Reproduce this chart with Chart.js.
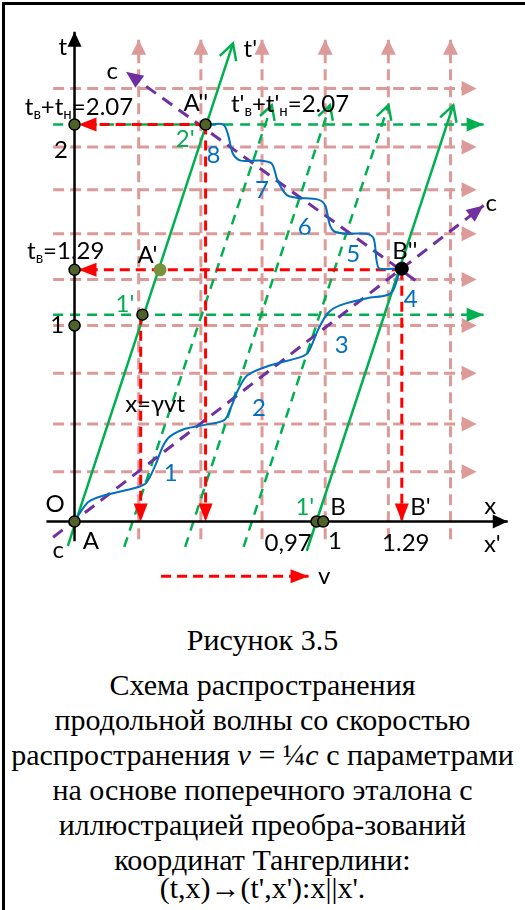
<!DOCTYPE html>
<html>
<head>
<meta charset="utf-8">
<script src="https://cdn.jsdelivr.net/npm/chart.js@4.4.0/dist/chart.umd.min.js"></script>
<style>
  body { margin: 0; background: #fff; }
  #page { position: relative; width: 525px; height: 910px; overflow: hidden; }
  #frame { position: absolute; left: 2px; top: 2px; width: 560px; height: 960px;
           border-left: 3px solid #000; border-top: 3px solid #000; }
  #chart { position: absolute; left: 0; top: 0; }
  .cap { position: absolute; left: 0; width: 525px; text-align: center;
         font-family: "Liberation Serif", "Times New Roman", serif; font-size: 30px;
         line-height: 35px; color: #000; white-space: nowrap; }
</style>
</head>
<body>
<div id="page">
  <div id="frame"></div>
  <canvas id="chart" width="525" height="610"></canvas>
  <div class="cap" style="top:622px">Рисунок 3.5</div>
  <div class="cap" style="top:667px">
    Схема распространения<br>
    продольной волны со скоростью<br>
    распространения <i>v</i> = ¼<i>c</i> с параметрами<br>
    на основе поперечного эталона с<br>
    иллюстрацией преобра-зований<br>
    координат Тангерлини:
  </div>
  <div class="cap" style="top:870px">(t,x)→(t',x'):x||x'.</div>
</div>

<script>
// pink reference grid (x and t values)
const gridX = [0.258, 0.508, 0.754, 1.008, 1.262, 1.512];
const gridT = [0.254, 0.498, 0.756, 1.0, 1.234, 1.468, 1.692, 1.91, 2.209];

// green world lines of the moving frame
const tPrimeX = [-0.027, 0.637], tPrimeT = [-0.124, 2.438];
const bLineX = [0.934, 1.523], bLineT = [-0.149, 2.124];
const dashBottomX = [0.200, 0.445, 0.680];
const dashTopX = [0.793, 1.027, 1.262];
const dashT = [-0.129, 2.124];
const greenLevelT = [2.025, 1.055];

// light signal lines c
const cFwdX = [-0.086, 1.645], cFwdT = [-0.080, 1.612];
const cBackX = [1.371, 0.207], cBackT = [1.229, 2.294];

// wave front (blue): 0 -> B'' -> A''
const waveX = [0, 0.055, 0.121, 0.25, 0.289, 0.324, 0.355, 0.383, 0.445, 0.523, 0.602, 0.629, 0.656, 0.695,
  0.785, 0.914, 0.941, 0.98, 1.02, 1.07, 1.176, 1.254, 1.281, 1.305, 1.316,
  1.227, 1.215, 1.203, 1.176, 1.098, 1.047, 1.027, 1.008, 0.98, 0.891, 0.852, 0.816, 0.793, 0.746,
  0.668, 0.637, 0.617, 0.598, 0.539, 0.527];
const waveT = [0, 0.1, 0.134, 0.174, 0.199, 0.284, 0.383, 0.433, 0.473, 0.493, 0.517, 0.582, 0.667, 0.746,
  0.796, 0.841, 0.866, 0.98, 1.065, 1.104, 1.139, 1.154, 1.179, 1.264, 1.29,
  1.289, 1.328, 1.443, 1.468, 1.468, 1.478, 1.512, 1.612, 1.642, 1.652, 1.667, 1.741, 1.826, 1.841,
  1.841, 1.876, 1.975, 2.025, 2.025, 2.025];

// red projection arrows
const redX = [[0.527, 0.016], [1.316, 0.016], [0.266, 0.266], [0.527, 0.527], [1.316, 1.316], [0.348, 0.941]];
const redT = [[2.025, 2.025], [1.284, 1.284], [1.055, 0], [2.025, 0], [1.284, 0], [-0.279, -0.279]];

// marked events
const dotX = [0, 0, 0, 0, 0.527, 0.273, 0.973, 1.0];
const dotT = [0, 1.0, 1.284, 2.025, 2.025, 1.055, 0, 0];
const aPrime = [0.344, 1.284];
const bDouble = [1.316, 1.29];

const PINK = '#dc9a98', GREEN = '#00b050', RED = '#ff0000', PURPLE = '#7030a0', BLUE = '#0070c0';
const SANS = 'Lato, "Liberation Sans", sans-serif';

const pts = (xs, ts) => xs.map((v, i) => ({ x: v, y: ts[i] }));

function seg(xs, ts, color, width, dash, order, arrow) {
  return {
    data: pts(xs, ts), showLine: true, pointRadius: 0, pointHoverRadius: 0,
    borderColor: color, borderWidth: width, borderDash: dash, borderCapStyle: 'butt',
    tension: 0, order: order, arrow: arrow
  };
}

const datasets = [];
gridX.forEach(g => datasets.push(seg([g, g], [-0.09, 2.458], PINK, 3, [11, 6], 20,
  { kind: 'fill', len: 15, half: 7.5, color: PINK })));
gridT.forEach(g => datasets.push(seg([-0.086, 1.617], [g, g], PINK, 3, [11, 6], 20,
  { kind: 'fill', len: 15, half: 7.5, color: PINK })));

datasets.push(seg(tPrimeX, tPrimeT, GREEN, 2.5, [], 10, { kind: 'open', len: 18, ang: 0.5, color: GREEN }));
datasets.push(seg(bLineX, bLineT, GREEN, 2.5, [], 10, { kind: 'open', len: 18, ang: 0.5, color: GREEN }));
dashBottomX.forEach((b, i) => datasets.push(seg([b, dashTopX[i]], dashT, GREEN, 2.5, [10, 7], 11,
  { kind: 'open', len: 16, ang: 0.5, color: GREEN })));
greenLevelT.forEach(g => datasets.push(seg([-0.086, 1.645], [g, g], GREEN, 2.5, [10, 7], 12,
  { kind: 'fill', len: 17, half: 7, color: GREEN })));

datasets.push(seg(cFwdX, cFwdT, PURPLE, 3, [12, 8], 9, { kind: 'fill', len: 17, half: 7.5, color: PURPLE }));
datasets.push(seg(cBackX, cBackT, PURPLE, 3, [12, 8], 9, { kind: 'fill', len: 17, half: 7.5, color: PURPLE }));

redX.forEach((xs, i) => datasets.push(seg(xs, redT[i], RED, 3, [10, 6], 8,
  { kind: 'fill', len: 18, half: 7, color: RED })));

datasets.push(Object.assign(seg(waveX, waveT, BLUE, 2, [], 6), { tension: 0.3 }));

datasets.push(seg([-0.113, 1.742], [0, 0], '#000', 2.5, [], 5, { kind: 'fill', len: 15, half: 7, color: '#000' }));
datasets.push(seg([0, 0], [-0.1, 2.498], '#000', 2.5, [], 5, { kind: 'fill', len: 15, half: 7, color: '#000' }));

datasets.push({ data: pts(dotX, dotT), showLine: false, pointRadius: 5.5, pointBorderWidth: 1.5,
  pointBackgroundColor: '#4f6228', pointBorderColor: '#000', order: 1 });
datasets.push({ data: [{ x: aPrime[0], y: aPrime[1] }], showLine: false, pointRadius: 6.5, pointBorderWidth: 0,
  pointBackgroundColor: '#76923c', pointBorderColor: '#76923c', order: 1 });
datasets.push({ data: [{ x: bDouble[0], y: bDouble[1] }], showLine: false, pointRadius: 6.5, pointBorderWidth: 1,
  pointBackgroundColor: '#000', pointBorderColor: '#000', order: 1 });

// text on the diagram: parts are [text, isSubscript]
const textLabels = [
  { parts: [['t']], x: -0.047, t: 2.423 },
  { parts: [["t'"]], x: 0.707, t: 2.413 },
  { parts: [['c']], x: 0.152, t: 2.299 },
  { parts: [['c']], x: 1.676, t: 1.627 },
  { parts: [['c']], x: -0.066, t: -0.144 },
  { parts: [["A''"]], x: 0.488, t: 2.139 },
  { parts: [['t'], ['в', 1], ['+t'], ['н', 1], ['=2.07']], x: -0.2, t: 2.075, left: true },
  { parts: [["t'"], ['в', 1], ["+t'"], ['н', 1], ['=2.07']], x: 0.629, t: 2.09, left: true },
  { parts: [['2']], x: -0.055, t: 1.896 },
  { parts: [['t'], ['в', 1], ['=1.29']], x: -0.191, t: 1.338, left: true },
  { parts: [["A'"]], x: 0.293, t: 1.363 },
  { parts: [['1']], x: -0.07, t: 1.005 },
  { parts: [["1'"]], x: 0.203, t: 1.114, color: GREEN },
  { parts: [["2'"]], x: 0.445, t: 1.955, color: GREEN },
  { parts: [['x=γvt']], x: 0.324, t: 0.602 },
  { parts: [['1']], x: 0.387, t: 0.249, color: BLUE },
  { parts: [['2']], x: 0.742, t: 0.582, color: BLUE },
  { parts: [['3']], x: 1.074, t: 0.905, color: BLUE },
  { parts: [['4']], x: 1.352, t: 1.139, color: BLUE },
  { parts: [['5']], x: 1.121, t: 1.368, color: BLUE },
  { parts: [['6']], x: 0.926, t: 1.507, color: BLUE },
  { parts: [['7']], x: 0.754, t: 1.692, color: BLUE },
  { parts: [['8']], x: 0.559, t: 1.871, color: BLUE },
  { parts: [['O']], x: -0.078, t: 0.09 },
  { parts: [['A']], x: 0.066, t: -0.095 },
  { parts: [["1'"]], x: 0.926, t: 0.075, color: GREEN },
  { parts: [['B']], x: 1.059, t: 0.075 },
  { parts: [["B'"]], x: 1.391, t: 0.075 },
  { parts: [['x']], x: 1.672, t: 0.08 },
  { parts: [["x'"]], x: 1.68, t: -0.114 },
  { parts: [['0,97']], x: 0.859, t: -0.109 },
  { parts: [['1']], x: 1.047, t: -0.095 },
  { parts: [['1.29']], x: 1.332, t: -0.109 },
  { parts: [['v']], x: 1.004, t: -0.274 },
  { parts: [["B''"]], x: 1.328, t: 1.383 }
];

const arrowPlugin = {
  id: 'arrows',
  afterDatasetDraw(chart, args) {
    const ds = chart.data.datasets[args.index];
    if (!ds.arrow) return;
    const el = args.meta.data;
    const a = el[el.length - 2], b = el[el.length - 1];
    const ang = Math.atan2(b.y - a.y, b.x - a.x);
    const s = ds.arrow, ctx = chart.ctx;
    ctx.save();
    ctx.translate(b.x, b.y);
    ctx.rotate(ang);
    if (s.kind === 'fill') {
      ctx.fillStyle = s.color;
      ctx.beginPath();
      ctx.moveTo(0, 0);
      ctx.lineTo(-s.len, -s.half);
      ctx.lineTo(-s.len, s.half);
      ctx.closePath();
      ctx.fill();
    } else {
      ctx.strokeStyle = s.color;
      ctx.lineWidth = 2.5;
      ctx.lineCap = 'butt';
      ctx.beginPath();
      ctx.moveTo(-s.len * Math.cos(s.ang), -s.len * Math.sin(s.ang));
      ctx.lineTo(0, 0);
      ctx.lineTo(-s.len * Math.cos(s.ang), s.len * Math.sin(s.ang));
      ctx.stroke();
    }
    ctx.restore();
  }
};

const labelPlugin = {
  id: 'labels',
  afterDraw(chart) {
    const { ctx, scales } = chart;
    const big = '24px ' + SANS, small = '15px ' + SANS;
    ctx.save();
    ctx.textBaseline = 'alphabetic';
    textLabels.forEach(lb => {
      let w = 0;
      lb.parts.forEach(p => { ctx.font = p[1] ? small : big; w += ctx.measureText(p[0]).width; });
      const px = scales.x.getPixelForValue(lb.x);
      const py = scales.y.getPixelForValue(lb.t);
      let cx = lb.left ? px : px - w / 2;
      const base = lb.left ? py : py + 8.5;
      ctx.fillStyle = lb.color || '#000';
      ctx.textAlign = 'left';
      lb.parts.forEach(p => {
        ctx.font = p[1] ? small : big;
        ctx.fillText(p[0], cx, p[1] ? base + 4 : base);
        cx += ctx.measureText(p[0]).width;
      });
    });
    ctx.restore();
  }
};

new Chart(document.getElementById('chart'), {
  type: 'scatter',
  data: { datasets: datasets },
  options: {
    responsive: false,
    animation: false,
    devicePixelRatio: 1,
    layout: { padding: 0 },
    plugins: { legend: { display: false }, tooltip: { enabled: false } },
    scales: {
      x: { type: 'linear', min: -69 / 256, max: 456 / 256, display: false },
      y: { type: 'linear', min: -83 / 201, max: 527 / 201, display: false }
    }
  },
  plugins: [arrowPlugin, labelPlugin]
});
</script>
</body>
</html>
